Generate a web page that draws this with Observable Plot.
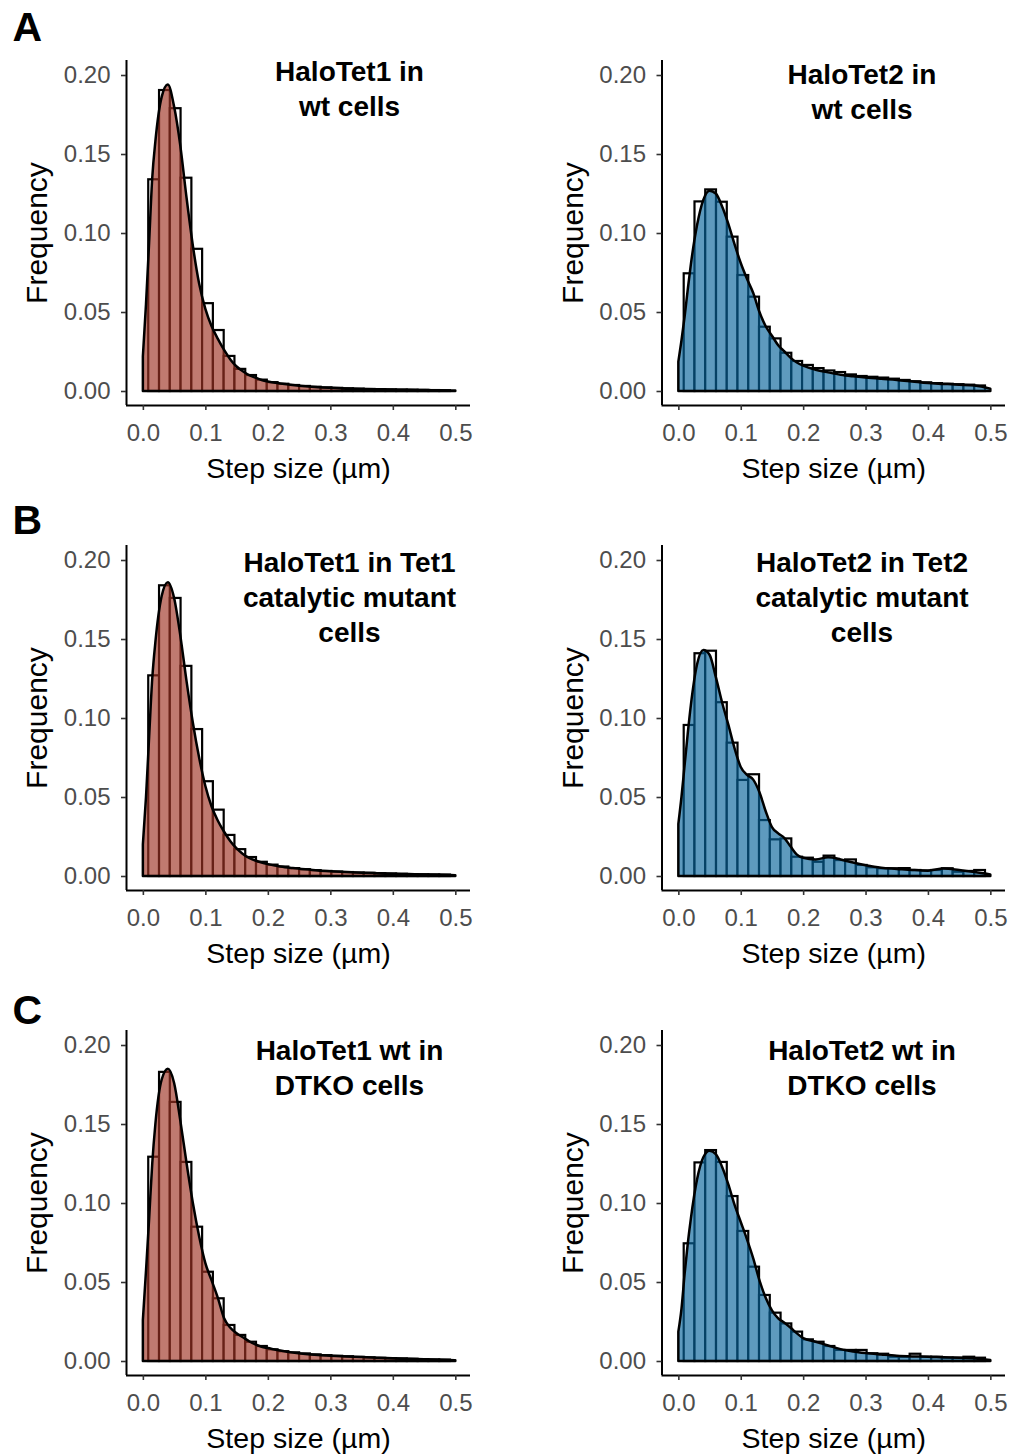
<!DOCTYPE html>
<html><head><meta charset="utf-8">
<script src="https://cdn.jsdelivr.net/npm/d3@7"></script>
<script src="https://cdn.jsdelivr.net/npm/@observablehq/plot@0.6"></script>
<style>
html,body{margin:0;padding:0;background:#fff;}
#root{position:relative;width:1013px;height:1454px;overflow:hidden;background:#fff;}
.panel{position:absolute;}
</style></head><body><div id="root"></div>
<script>
// ---- data ----
const binCenters = [0.0172,0.0345,0.0517,0.0690,0.0862,0.1034,0.1207,0.1379,0.1552,0.1724,0.1897,0.2069,0.2241,0.2414,0.2586,0.2759,0.2931,0.3103,0.3276,0.3448,0.3621,0.3793,0.3966,0.4138,0.4310,0.4483,0.4655,0.4828];
const binWidth = 0.01724;
const densX = [0,0.005,0.01,0.015,0.02,0.03,0.04,0.05,0.06,0.07,0.08,0.09,0.1,0.11,0.12,0.13,0.14,0.15,0.16,0.17,0.18,0.19,0.2,0.22,0.24,0.26,0.28,0.3,0.325,0.35,0.375,0.4,0.425,0.45,0.475,0.5];
const xTicks = [0,0.1,0.2,0.3,0.4,0.5];
const yTicks = [0,0.05,0.10,0.15,0.20];

const histT1wt = [0.134,0.1905,0.179,0.135,0.090,0.0556,0.0386,0.0222,0.014,0.0101,0.0072,0.0056,0.0046,0.0038,0.0032,0.0027,0.0023,0.002,0.0017,0.0015,0.0013,0.0012,0.001,0.0009,0.0008,0.0007,0.0006,0.0005];
const densT1wt = [0.022,0.055,0.094,0.135,0.158,0.186,0.194,0.18,0.155,0.122,0.092,0.068,0.052,0.041,0.033,0.026,0.020,0.0155,0.0125,0.010,0.0085,0.007,0.006,0.0048,0.0038,0.003,0.0024,0.002,0.0016,0.0013,0.0011,0.0009,0.0008,0.0006,0.0005,0.0003];

const histT2wt = [0.0745,0.120,0.1276,0.1198,0.0977,0.0734,0.0597,0.0407,0.0333,0.0242,0.019,0.0165,0.0145,0.013,0.012,0.0105,0.0095,0.009,0.0085,0.0078,0.007,0.0062,0.0055,0.005,0.0046,0.0043,0.004,0.0035];
const densT2wt = [0.0186,0.032,0.047,0.064,0.08,0.105,0.121,0.1268,0.125,0.117,0.106,0.093,0.081,0.071,0.062,0.05,0.041,0.035,0.029,0.025,0.021,0.018,0.016,0.0135,0.0118,0.0103,0.0093,0.0085,0.0077,0.007,0.006,0.005,0.0045,0.004,0.0035,0.0015];

const histT1mut = [0.127,0.184,0.176,0.133,0.093,0.06,0.042,0.026,0.017,0.012,0.009,0.0072,0.006,0.005,0.0043,0.0037,0.0032,0.0028,0.0025,0.0022,0.002,0.0018,0.0016,0.0014,0.0012,0.0011,0.001,0.0009];
const densT1mut = [0.02,0.05,0.088,0.125,0.148,0.177,0.186,0.176,0.152,0.123,0.097,0.075,0.057,0.044,0.035,0.028,0.022,0.0175,0.014,0.0115,0.0098,0.0085,0.0075,0.006,0.005,0.0042,0.0035,0.003,0.0025,0.0021,0.0018,0.0015,0.0012,0.001,0.0008,0.0005];

const histT2mut = [0.0956,0.141,0.1426,0.110,0.0844,0.0608,0.0644,0.0354,0.0232,0.0238,0.0122,0.0116,0.009,0.0129,0.0101,0.0105,0.007,0.0055,0.0049,0.0049,0.005,0.0038,0.0035,0.0038,0.0049,0.0027,0.0032,0.0038];
const densT2mut = [0.033,0.05,0.07,0.09,0.108,0.134,0.143,0.14,0.126,0.11,0.096,0.081,0.069,0.064,0.061,0.053,0.041,0.031,0.027,0.024,0.0186,0.0135,0.0115,0.0105,0.0118,0.0105,0.0085,0.0068,0.0052,0.0045,0.0038,0.0034,0.0048,0.0038,0.0025,0.001];

const histT1dtko = [0.1293,0.183,0.164,0.126,0.085,0.0565,0.0397,0.0228,0.0165,0.0122,0.0095,0.0074,0.0062,0.0055,0.0048,0.0042,0.0037,0.0033,0.003,0.0026,0.0023,0.002,0.0018,0.0016,0.0014,0.0012,0.001,0.0009];
const densT1dtko = [0.026,0.057,0.09,0.125,0.15,0.178,0.185,0.176,0.152,0.125,0.1,0.079,0.062,0.051,0.04,0.027,0.021,0.0175,0.015,0.0125,0.0105,0.009,0.0082,0.0066,0.0053,0.0044,0.0038,0.0034,0.0029,0.0025,0.0021,0.0017,0.0014,0.0011,0.0008,0.0005];

const histT2dtko = [0.0745,0.1257,0.1335,0.126,0.1044,0.0823,0.0597,0.0418,0.0306,0.0238,0.0186,0.0137,0.0122,0.0095,0.007,0.007,0.007,0.0049,0.0046,0.0027,0.0027,0.0046,0.0027,0.0027,0.0021,0.0021,0.0027,0.0021];
const densT2dtko = [0.0186,0.033,0.055,0.074,0.09,0.115,0.129,0.133,0.131,0.123,0.112,0.099,0.088,0.077,0.065,0.051,0.04,0.032,0.027,0.0242,0.021,0.0175,0.0145,0.0122,0.0098,0.0075,0.006,0.005,0.0041,0.0033,0.0029,0.0027,0.0023,0.002,0.0018,0.0006];

const rowLetters = ["A","B","C"];
const panelTitles = [
  "HaloTet1 in\nwt cells", "HaloTet2 in\nwt cells",
  "HaloTet1 in Tet1\ncatalytic mutant\ncells", "HaloTet2 in Tet2\ncatalytic mutant\ncells",
  "HaloTet1 wt in\nDTKO cells", "HaloTet2 wt in\nDTKO cells"
];
const tet1Color = "#9e3223";
const tet2Color = "#07649b";

// ---- layout ----
const xDomain = [-0.027, 0.5235];
const yDomain = [-0.00886, 0.2095];
const FONT = "'Liberation Sans', Arial, Helvetica, sans-serif";

const panels = [
  {row:0, col:0, hist:histT1wt, dens:densT1wt, color:tet1Color, title:panelTitles[0], tdy:-4},
  {row:0, col:1, hist:histT2wt, dens:densT2wt, color:tet2Color, title:panelTitles[1], tdy:-1},
  {row:1, col:0, hist:histT1mut, dens:densT1mut, color:tet1Color, title:panelTitles[2], tdy:2},
  {row:1, col:1, hist:histT2mut, dens:densT2mut, color:tet2Color, title:panelTitles[3], tdy:2},
  {row:2, col:0, hist:histT1dtko, dens:densT1dtko, color:tet1Color, title:panelTitles[4], tdy:5},
  {row:2, col:1, hist:histT2dtko, dens:densT2dtko, color:tet2Color, title:panelTitles[5], tdy:5}
];
const letterDy = [-20, -12, -7];

const root = document.getElementById("root");

for (const p of panels) {
  const left = p.col === 0 ? 0 : 530;
  const width = p.col === 0 ? 490 : 483;
  const marginLeft = p.col === 0 ? 126 : 131.5;
  const marginRight = p.col === 0 ? 20 : 8;
  const top = p.row * 485;
  const bars = binCenters.map((c, i) => ({c, v: p.hist[i]}));
  const dens = densX.map((x, i) => ({x, v: p.dens[i]}));
  const frameCx = marginLeft + (width - marginLeft - marginRight) / 2;
  const titleCx = p.col === 0 ? 349 : 861.5 - left;

  const marks = [
    Plot.rectY(bars, {x1: d => d.c - binWidth / 2, x2: d => d.c + binWidth / 2, y1: 0, y2: "v",
      fill: "white", stroke: "black", strokeWidth: 2.2}),
    Plot.areaY(dens, {x: "x", y1: 0, y2: "v", fill: p.color, fillOpacity: 0.65,
      stroke: "black", strokeWidth: 2.5, strokeLinejoin: "round", curve: "monotone-x"}),
    Plot.ruleX([xDomain[0]], {stroke: "black", strokeWidth: 2}),
    Plot.ruleY([yDomain[0]], {stroke: "black", strokeWidth: 2}),
    Plot.axisX({ticks: xTicks, tickFormat: d3.format(".1f"), tickSize: 5, tickPadding: 13,
      stroke: "#333", strokeWidth: 1.6, fill: "#4d4d4d", fontSize: 24, label: null}),
    Plot.axisY({ticks: yTicks, tickFormat: d3.format(".2f"), tickSize: 5, tickPadding: 11,
      stroke: "#333", strokeWidth: 1.6, fill: "#4d4d4d", fontSize: 24, label: null}),
    Plot.text(["Step size (µm)"], {text: d => d, frameAnchor: "bottom", lineAnchor: "bottom",
      dy: 72, fontSize: 28.5, fill: "black"}),
    Plot.text(["Frequency"], {text: d => d, frameAnchor: "left", textAnchor: "middle", lineAnchor: "bottom", rotate: -90,
      dx: -79.5, fontSize: 30, fill: "black"}),
    Plot.text([p.title], {text: d => d, frameAnchor: "top", lineAnchor: "top", textAnchor: "middle",
      dx: titleCx - frameCx, dy: p.tdy, fontSize: 28, fontWeight: "bold", lineHeight: 1.25, fill: "black"})
  ];
  if (p.col === 0) {
    marks.push(Plot.text([rowLetters[p.row]], {text: d => d, frameAnchor: "top-left", textAnchor: "start",
      lineAnchor: "bottom", dx: 12 - marginLeft, dy: letterDy[p.row], fontSize: 41, fontWeight: "bold", fill: "black"}));
  }

  const chart = Plot.plot({
    width, height: 485,
    marginLeft, marginRight, marginTop: 60, marginBottom: 80,
    x: {domain: xDomain},
    y: {domain: yDomain},
    style: {fontFamily: FONT, background: "transparent", overflow: "visible"},
    marks
  });
  chart.classList.add("panel");
  chart.style.left = left + "px";
  chart.style.top = top + "px";
  root.appendChild(chart);
}
</script>
</body></html>
